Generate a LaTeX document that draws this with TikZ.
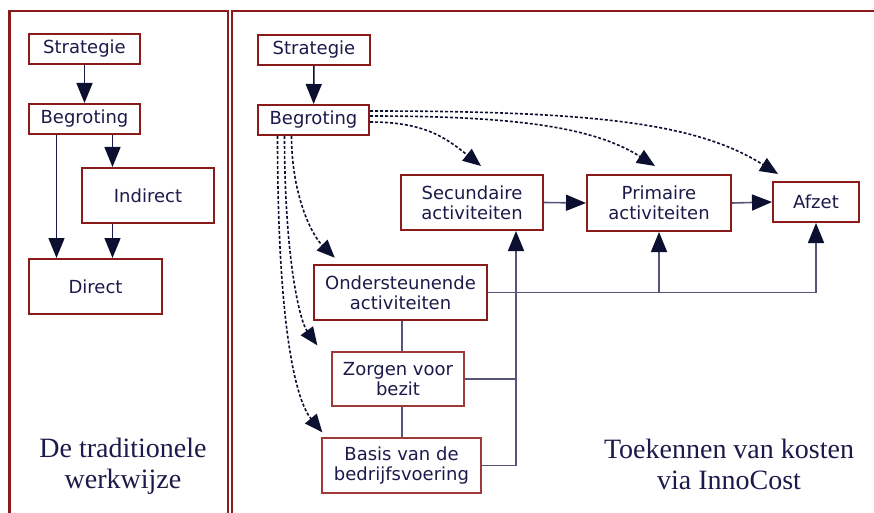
\documentclass[tikz,border=0pt]{standalone}
\usepackage{fontspec}
\setmainfont{Liberation Serif}
\newfontfamily\boxfont{DejaVu Sans}
\usetikzlibrary{arrows.meta,calc}
\definecolor{frame}{HTML}{8B1A1A}
\definecolor{frameb}{HTML}{A03A3A}
\definecolor{ink}{HTML}{1B1B4B}
\definecolor{tipc}{HTML}{0B1030}
\definecolor{wirec}{HTML}{55557A}
\definecolor{navy}{HTML}{1A1A48}
\begin{document}
\begin{tikzpicture}[x=1pt,y=-1pt,
  box/.style={draw=frame, line width=2pt, fill=white, text=ink,
    font=\boxfont\fontsize{18}{20}\selectfont, align=center, inner sep=0pt},
  thinbox/.style={box, draw=frameb, line width=1.3pt},
  panel/.style={draw=frame, line width=2.5pt},
  lbl/.style={text=ink, font=\fontsize{28}{31}\selectfont, align=center},
  tip/.style={-{Triangle[length=20pt,width=16pt,color=tipc]}},
  arr/.style={tip, draw=navy, line width=1.5pt},
  wire/.style={draw=wirec, line width=1.6pt},
  warr/.style={wire, tip},
  dsh/.style={draw=tipc, line width=1.6pt, dash pattern=on 3pt off 2pt,
    -{Triangle[length=18pt,width=15pt]}}]
\useasboundingbox (0,0) rectangle (874,513);
\fill[white] (0,0) rectangle (874,513);
% panels
\draw[panel] (9.5,530) -- (9.5,11) -- (228,11) -- (228,530);
\draw[panel] (232,530) -- (232,11) -- (890,11);
% left boxes
\node[box, minimum width=111, minimum height=30] (s1) at (84.5,49) {Strategie};
\node[box, minimum width=111, minimum height=30] (b1) at (84.5,119) {Begroting};
\node[box, minimum width=132, minimum height=55] (ind) at (148,195.5) {Indirect};
\node[box, minimum width=133, minimum height=55] (dir) at (95.5,286.5) {Direct};
% right boxes
\node[box, minimum width=112, minimum height=30] (s2) at (314,50) {Strategie};
\node[box, minimum width=111, minimum height=30] (b2) at (313.5,120) {Begroting};
\node[box, minimum width=142, minimum height=55] (sec) at (472,202.5) {Secundaire\\activiteiten};
\node[box, minimum width=144, minimum height=56] (prim) at (659,203) {Primaire\\activiteiten};
\node[box, minimum width=86, minimum height=40] (afz) at (816,202) {Afzet};
\node[box, line width=2.5pt, minimum width=173, minimum height=55] (ond) at (400.5,292.5) {Ondersteunende\\activiteiten};
\node[thinbox, minimum width=132, minimum height=54] (zor) at (398,379) {Zorgen voor\\bezit};
\node[thinbox, minimum width=159, minimum height=55] (bas) at (401.5,465.5) {Basis van de\\bedrijfsvoering};
% labels
\node[lbl] (t1) at (123,466) {De traditionele\\werkwijze};
\node[lbl] (t2) at (729,464) {Toekennen van kosten\\via InnoCost};
% left connectors
\coordinate (bl1) at ($(b1.south)+(28,0)$);
\coordinate (bl2) at ($(b1.south)+(-28,0)$);
\draw[arr] (s1) -- (b1);
\draw[arr] (bl1) -- (bl1 |- ind.north);
\draw[arr] (bl2) -- (bl2 |- dir.north);
\draw[arr] (bl1 |- ind.south) -- (bl1 |- dir.north);
% right connectors
\draw[arr, draw=tipc] (s2) -- (b2);
\draw[warr] (sec.east) -- (prim.west);
\draw[warr] (prim.east) -- (afz.west);
\draw[warr] (ond.east) -| (afz.south);
\draw[warr] (ond.east -| prim.south) -- (prim.south);
\coordinate (secin) at ($(sec.south)+(44,0)$);
\draw[warr] (bas.east) -| (secin);
\draw[wire] (zor.east) -- (zor.east -| secin);
\coordinate (vx) at ($(ond.south)+(1.5,0)$);
\draw[wire] (vx) -- (vx |- zor.north);
\draw[wire] (vx |- zor.south) -- (vx |- bas.north);
% dashed connectors
\draw[dsh] ($(b2.east)+(0,2)$) .. controls +(55,0) and +(-35,-28) .. ($(sec.north)+(9,-8)$);
\draw[dsh] ($(b2.east)+(0,-4)$) .. controls +(150,0) and +(-60,-38) .. ($(prim.north)+(-4,-8)$);
\draw[dsh] ($(b2.east)+(0,-9)$) .. controls +(230,0) and +(-80,-50) .. ($(afz.north west)+(6,-7)$);
\draw[dsh] ($(b2.south)+(-22,0)$) .. controls +(0,55) and +(-25,-25) .. ($(ond.north west)+(22,-6)$);
\draw[dsh] ($(b2.south)+(-29,0)$) .. controls +(0,120) and +(-18,-25) .. ($(zor.north west)+(-14,-6)$);
\draw[dsh] ($(b2.south)+(-36,0)$) .. controls +(0,200) and +(-25,-30) .. ($(bas.north west)+(1,-5)$);
\end{tikzpicture}
\end{document}
